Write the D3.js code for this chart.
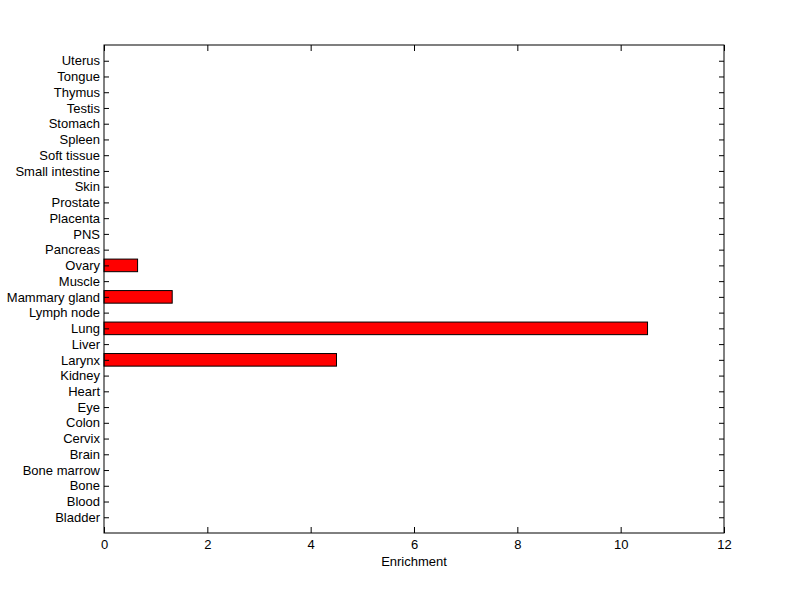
<!DOCTYPE html>
<html>
<head>
<meta charset="utf-8">
<script src="https://cdn.jsdelivr.net/npm/d3@7"></script>
<style>
body { margin: 0; background: #fff; }
text { font-family: "Liberation Sans", Arial, sans-serif; font-size: 13px; fill: #000; }
</style>
</head>
<body>
<script>
// data (bottom to top)
var tissues = ['Bladder', 'Blood', 'Bone', 'Bone marrow', 'Brain', 'Cervix', 'Colon', 'Eye',
	'Heart', 'Kidney', 'Larynx', 'Liver', 'Lung', 'Lymph node', 'Mammary gland', 'Muscle',
	'Ovary', 'Pancreas', 'PNS', 'Placenta', 'Prostate', 'Skin', 'Small intestine',
	'Soft tissue', 'Spleen', 'Stomach', 'Testis', 'Thymus', 'Tongue', 'Uterus'];
var enrichment = [0, 0, 0, 0, 0, 0, 0, 0,
	0, 0, 4.50, 0, 10.52, 0, 1.32, 0,
	0.65, 0, 0, 0, 0, 0, 0,
	0, 0, 0, 0, 0, 0, 0];
var xTicks = [0, 2, 4, 6, 8, 10, 12];

var margin = { top: 45, right: 76, bottom: 66, left: 104 };
var width = 800 - margin.left - margin.right;
var height = 599 - margin.top - margin.bottom;

var svg = d3.select('body')
	.append('svg')
	.attr('width', 800)
	.attr('height', 599)
	.append('g')
	.attr('transform', 'translate(' + margin.left + ',' + margin.top + ')');

var x = d3.scaleLinear().domain([0, 12]).range([0, width]);
var y = d3.scaleLinear().domain([0, tissues.length + 1]).range([height, 0]);
var barH = (y(0) - y(1)) * 0.8;

var dataset = tissues.map(function (t, i) { return { name: t, pos: i + 1, value: enrichment[i] }; });

// bars
svg.selectAll('rect.bar')
	.data(dataset.filter(function (d) { return d.value > 0; }))
	.enter()
	.append('rect')
	.attr('class', 'bar')
	.attr('x', x(0))
	.attr('y', function (d) { return y(d.pos) - barH / 2; })
	.attr('width', function (d) { return x(d.value) - x(0); })
	.attr('height', barH)
	.attr('fill', '#ff0000')
	.attr('stroke', '#000')
	.attr('stroke-width', 1);

// axes
var tickLen = 6;
function styleAxis(g) {
	g.select('.domain').remove();
	g.selectAll('line').attr('stroke', '#000');
}

svg.append('g')
	.attr('transform', 'translate(0,' + height + ')')
	.call(d3.axisBottom(x).tickValues(xTicks).tickSizeInner(-tickLen).tickSizeOuter(0).tickPadding(7))
	.call(styleAxis);

svg.append('g')
	.call(d3.axisTop(x).tickValues(xTicks).tickSizeInner(-tickLen).tickSizeOuter(0).tickFormat(''))
	.call(styleAxis);

svg.append('g')
	.call(d3.axisLeft(y).tickValues(dataset.map(function (d) { return d.pos; }))
		.tickFormat(function (p) { return tissues[p - 1]; })
		.tickSizeInner(-5).tickSizeOuter(0).tickPadding(4))
	.call(styleAxis);

svg.append('g')
	.attr('transform', 'translate(' + width + ',0)')
	.call(d3.axisRight(y).tickValues(dataset.map(function (d) { return d.pos; }))
		.tickSizeInner(-5).tickSizeOuter(0).tickFormat(''))
	.call(styleAxis);

svg.selectAll('.tick text').attr('font-family', null).attr('font-size', null);

// box
svg.append('rect')
	.attr('x', 0)
	.attr('y', 0)
	.attr('width', width)
	.attr('height', height)
	.attr('fill', 'none')
	.attr('stroke', '#000')
	.attr('stroke-width', 1);

svg.append('text')
	.attr('x', width / 2)
	.attr('y', height + 33)
	.attr('text-anchor', 'middle')
	.text('Enrichment');
</script>
</body>
</html>
